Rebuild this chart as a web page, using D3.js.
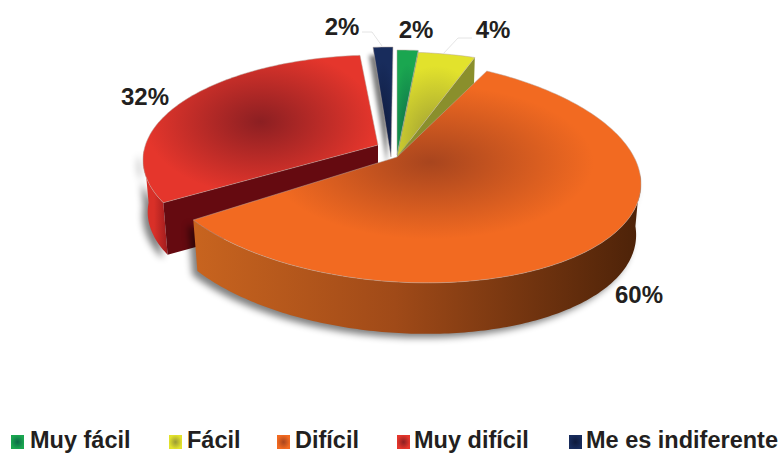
<!DOCTYPE html>
<html><head><meta charset="utf-8">
<script src="https://cdnjs.cloudflare.com/ajax/libs/d3/7.8.5/d3.min.js"></script>
<style>html,body{margin:0;padding:0;background:#fff}svg{display:block}text{font-family:"Liberation Sans",Arial,sans-serif;font-weight:700;fill:#231f20}</style>
</head><body><svg id="c" width="781" height="453"></svg>
<script>
const categories=["Muy fácil","Fácil","Difícil","Muy difícil","Me es indiferente"];
const values=[2,4,60,32,2];
const labels=["2%","4%","60%","32%","2%"];
const colors=["#1aa650","#e2e22c","#f26a21","#e5362c","#182c5c"];
const centers=["#0c6a48","#9a9a34","#a8451e","#8c1f22","#0e1a3c"];
const sideL=["#0c6a48","#c4c42a","#c8641f","#d93028","#0e1a3c"];
const sideR=["#0c6a48","#8f9a30","#4c2208","#a01c1e","#0e1a3c"];
const cutCol=["#0c6a48","#8a8f2c","#8a3a14","#650a10","#0e1a3c"];
// per-slice projection: ellipse centre, apex, radii, tilt, angular correction
const ecx=[397,397,397,378,390], ecy=[157,157,170,160,157];
const apx=[397,397,397,378,391], apy=[155,157,157,145,157];
const rxs=[244,244,244,235,244], rys=[107,105,112,105,110], tilts=[0,0,14,0,0];
const a0=[0,-2.2,0,8.4,3.2], a1=[-2.2,-3,-1,2.8,0.7];
const depth=[50,50,51,52,50];
const order=[4,0,1,3,2];
const labelX=[416,493,639,145,342], labelY=[38,38,303,105,35];

const svg=d3.select("#c"),defs=svg.append("defs");
const pie=d3.pie().sort(null).value(d=>d)(values);
const rad=Math.PI/180;
const mk=(id,sd)=>defs.append("filter").attr("id",id).attr("x","-40%").attr("y","-20%").attr("width","180%").attr("height","140%")
  .append("feGaussianBlur").attr("stdDeviation",sd);
mk("b",3.5);mk("b2",2);
const line=d3.line().x(d=>d[0]).y(d=>d[1]);

colors.forEach((c,i)=>{
  const g=defs.append("radialGradient").attr("id","t"+i)
    .attr("cx",i==2?.53:.5).attr("cy",i==2?.43:i==3?.45:.85).attr("r",i==2?.52:i==3?.55:.8);
  g.append("stop").attr("offset",0).attr("stop-color",centers[i]);
  g.append("stop").attr("offset",i==2?.7:.9).attr("stop-color",c);
  g.append("stop").attr("offset",1).attr("stop-color",c);
  const s=defs.append("linearGradient").attr("id","s"+i);
  s.append("stop").attr("offset",0).attr("stop-color",sideL[i]);
  s.append("stop").attr("offset",.45).attr("stop-color",i==2?"#a04a18":sideL[i]);
  s.append("stop").attr("offset",1).attr("stop-color",sideR[i]);
});

function rim(i,phi){
  const p=phi*rad;
  return [ecx[i]+rxs[i]*Math.sin(p), ecy[i]-rys[i]*Math.cos(p)+tilts[i]*Math.sin(p)];
}
const down=(p,i)=>[p[0]+(apx[i]-p[0])*.02,p[1]+depth[i]];
order.forEach(i=>{
  const s=pie[i].startAngle/rad+a0[i], e=pie[i].endAngle/rad+a1[i];
  const phis=d3.range(s,e,1).concat([e]);
  const pts=phis.map(f=>rim(i,f));
  const ap=[apx[i],apy[i]];
  const g=svg.append("g");
  if(i==4){
    g.append("path").attr("d",line([ap].concat(pts))+"Z").attr("transform","translate(-4,8)")
      .attr("fill","#000").attr("opacity",.5).attr("filter","url(#b2)");
  }
  const vis=phis.filter(f=>f>=85&&f<=275);
  if(vis.length>1){
    const top=vis.map(f=>rim(i,f));
    const wall=top.concat(top.slice().reverse().map(p=>down(p,i)));
    g.append("path").attr("d",line(wall)+"Z").attr("transform","translate(-5,4)")
      .attr("fill","#000").attr("opacity",.5).attr("filter","url(#b)");
    g.append("path").attr("d",line(wall)+"Z").attr("fill",`url(#s${i})`);
  }
  const first=pts[0], last=pts[pts.length-1];
  [[first,ap],[last,ap]].forEach(([q,a],k)=>{
    if((i==3&&k==0)||(i==1&&k==1)||(i==0&&k==1)){
      g.append("path").attr("d",line([q,a,down(a,i),down(q,i)])+"Z").attr("fill",cutCol[i]);
    }
  });
  g.append("path").attr("d",line([ap].concat(pts))+"Z").attr("fill",`url(#t${i})`)
    .attr("stroke","#b9a9a0").attr("stroke-width",.5);
});

const leaders=[[[443,54],[458,38],[472,38]],[[382,46],[372,32],[362,32]]];
leaders.forEach(l=>svg.append("path").attr("d",line(l)).attr("fill","none").attr("stroke","#ddd").attr("stroke-width",.8));

labels.forEach((t,i)=>svg.append("text").attr("x",labelX[i]).attr("y",labelY[i]).attr("text-anchor","middle").attr("font-size",24).text(t));

const legX=[11,169,277,397,569], legTxt=[30,187,295,414,586];
categories.forEach((c,i)=>{
  const id="l"+i,g=defs.append("radialGradient").attr("id",id);
  g.append("stop").attr("offset",0).attr("stop-color",centers[i]);
  g.append("stop").attr("offset",1).attr("stop-color",colors[i]);
  svg.append("rect").attr("x",legX[i]).attr("y",435).attr("width",13).attr("height",14).attr("fill",`url(#${id})`);
  svg.append("text").attr("x",legTxt[i]).attr("y",448).attr("font-size",23.5).text(c);
});
</script></body></html>
